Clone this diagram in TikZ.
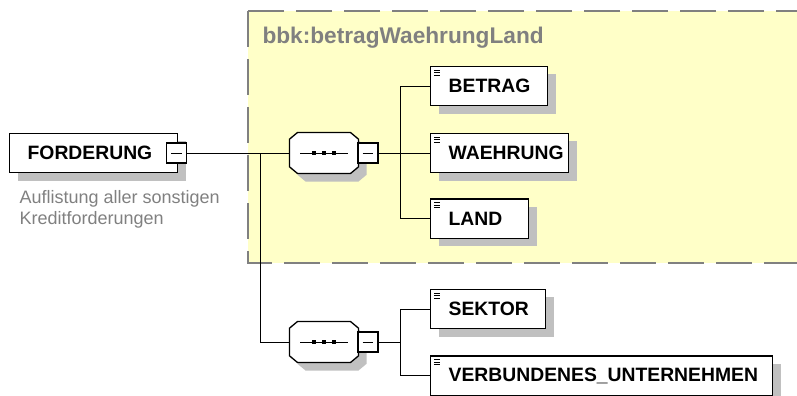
\documentclass[tikz,border=0pt]{standalone}
\usepackage{fontspec}
\setmainfont{Liberation Sans}
\usetikzlibrary{shadows}

\definecolor{groupyellow}{RGB}{255,255,200}
\definecolor{groupline}{RGB}{128,128,128}
\definecolor{shadowgray}{RGB}{192,192,192}
\definecolor{notegray}{RGB}{128,128,128}

\tikzset{every picture/.style={line width=0.75pt}}
\tikzset{
  boxshadow/.style={drop shadow={shadow xshift=6pt, shadow yshift=-6pt, fill=shadowgray, opacity=1}},
  elem/.style={draw, line width=1pt, fill=white, anchor=west, minimum height=29.5pt, inner xsep=0pt, inner ysep=0pt,
    text width=#1, align=left, font=\fontsize{14.5}{17}\selectfont\bfseries,
    execute at begin node={\hspace*{13.5pt}}, boxshadow},
  elemicon/.style={elem=#1, path picture={
    \foreach \k in {0,1,2}
      \draw[line width=0.6pt] ([xshift=2.5pt, yshift={-(3+1.8*\k)*1pt}]path picture bounding box.north west) -- ++(6,0);}},
  seqslot/.style={minimum width=51pt, minimum height=30pt, inner sep=0pt},
  seqshape/.style={draw, line width=1pt, fill=white, boxshadow},
  togglebox/.style={draw, line width=1pt, fill=white, minimum width=15pt, minimum height=15pt, inner sep=0pt, path picture={
    \draw[line width=0.75pt] ([xshift=-4pt]path picture bounding box.center) -- ([xshift=4pt]path picture bounding box.center);}},
  groupbox/.style={draw=groupline, fill=groupyellow, line width=1.5pt, dash pattern=on 27pt off 9pt},
  grouptitle/.style={text=groupline, font=\fontsize{17}{20}\selectfont\bfseries, inner sep=0pt},
  note/.style={text=notegray, font=\fontsize{13.5}{15.75}\selectfont, align=left, inner sep=0pt}
}

\begin{document}
\begin{tikzpicture}[x=0.75pt,y=0.75pt,yscale=-1,xscale=1]
\useasboundingbox (0,0) rectangle (797,396);

% group background
\draw[groupbox] (248,11) rectangle (830,263);
\node[grouptitle, anchor=west] (groupname) at (262,38) {bbk:betragWaehrungLand};

% root element
\node[elem=126pt] (forderung) at (9,153) {FORDERUNG};
\node[togglebox] (fminus) at (176.5,153) {};
\node[note, anchor=north west] (forderungnote) at (19,190) {Auflistung aller sonstigen\\Kreditforderungen};

% sequences
\node[seqslot] (seq1) at (324,153) {};
\node[seqslot] (seq2) at (324,342) {};
\foreach \n in {seq1,seq2} {
  \draw[seqshape] ([xshift=6pt]\n.north west) -- ([xshift=-6pt]\n.north east) -- ([yshift=5pt]\n.north east)
    -- ([yshift=-5pt]\n.south east) -- ([xshift=-6pt]\n.south east) -- ([xshift=6pt]\n.south west)
    -- ([yshift=-5pt]\n.south west) -- ([yshift=5pt]\n.north west) -- cycle;
  \draw ([xshift=-18pt]\n.center) -- ([xshift=18pt]\n.center);
  \foreach \d in {-7.5,0,7.5}
    \fill ([xshift=\d pt]\n.center) +(-2,-2) rectangle +(2,2);
}
\node[togglebox] (m1) at (368,153) {};
\node[togglebox] (m2) at (368,342) {};

% child elements
\node[elemicon=87.75pt] (betrag) at (430,86) {BETRAG};
\node[elemicon=103.5pt] (waehrung) at (430,153) {WAEHRUNG};
\node[elemicon=73.5pt] (land) at (430,218.5) {LAND};
\node[elemicon=86.25pt] (sektor) at (430,309) {SEKTOR};
\node[elemicon=256.5pt] (verbunden) at (430,375.5) {VERBUNDENES\_UNTERNEHMEN};

% connectors
\coordinate (trunk) at (260,153);
\coordinate (b1) at (400,153);
\coordinate (b2) at (400,342);
\draw (fminus.east) -- (seq1.west);
\draw (trunk) |- (seq2.west);
\draw (m1.east) -- (waehrung.west);
\draw (b1) |- (betrag.west);
\draw (b1) |- (land.west);
\draw (m2.east) -- (b2);
\draw (b2) |- (sektor.west);
\draw (b2) |- (verbunden.west);

\end{tikzpicture}
\end{document}
